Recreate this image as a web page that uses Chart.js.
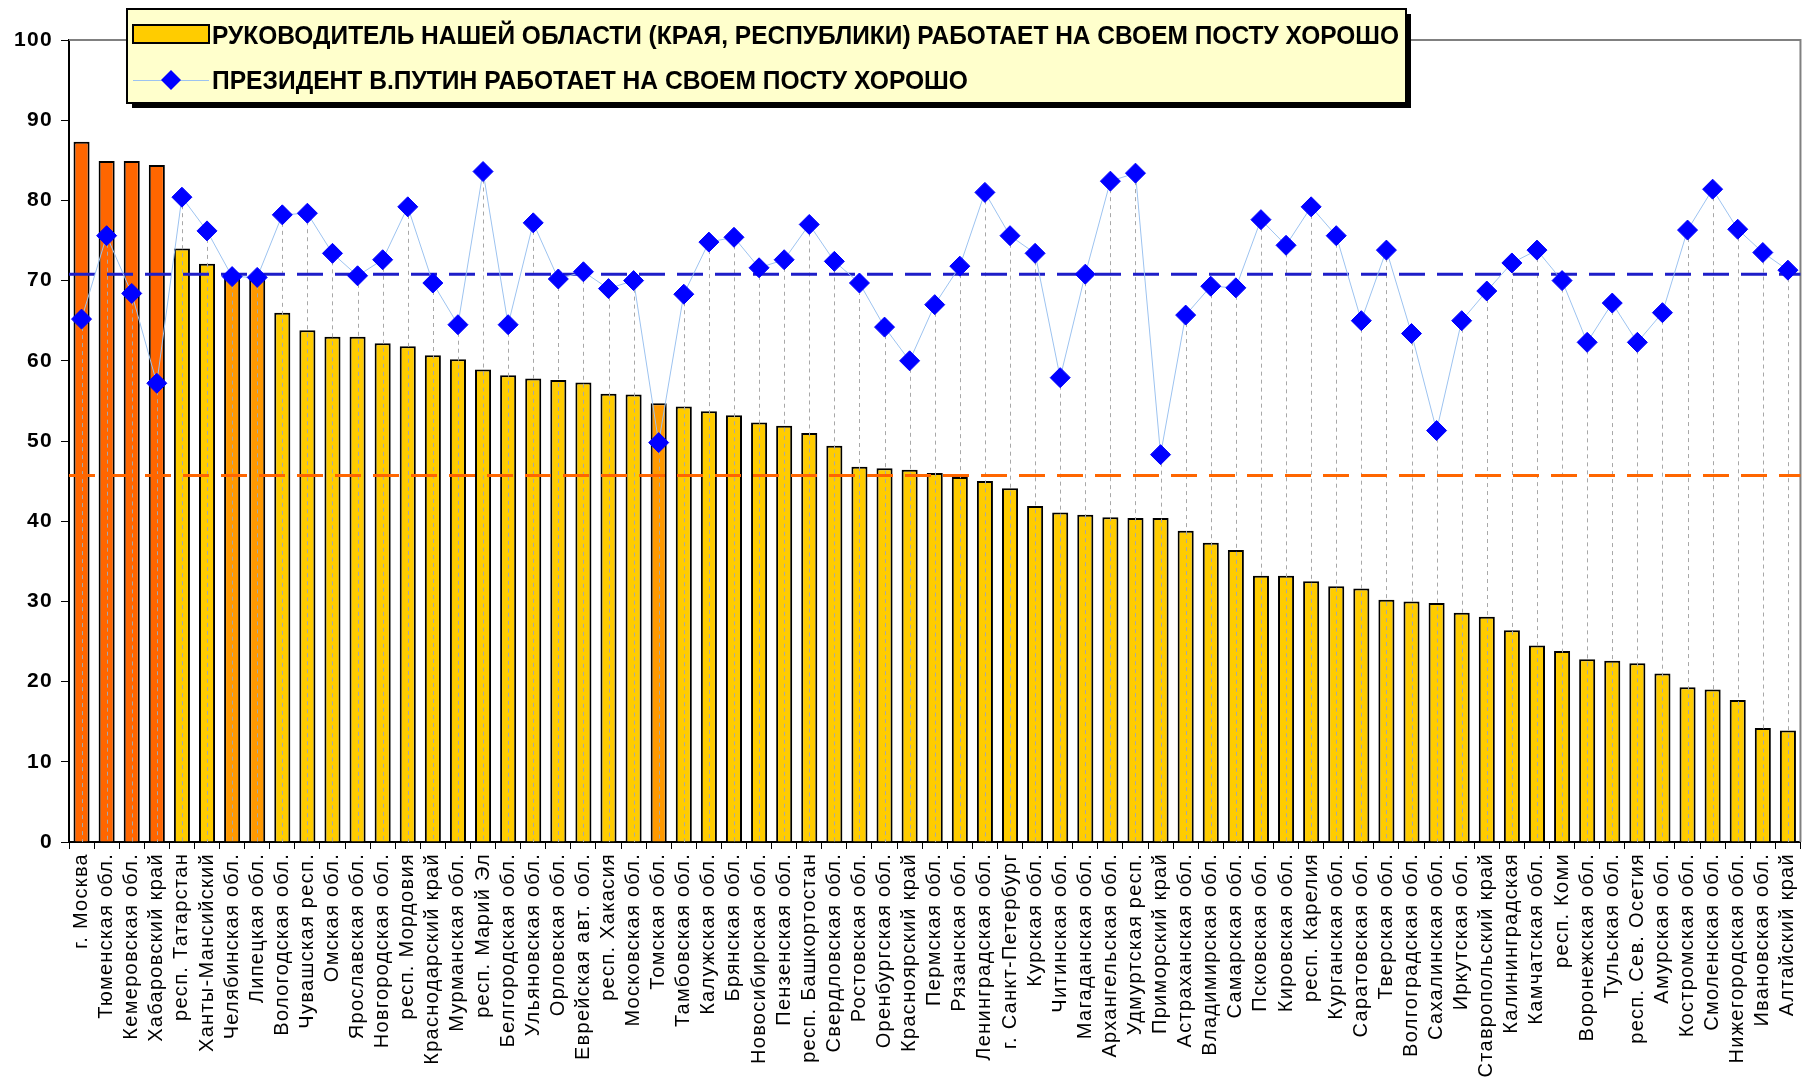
<!DOCTYPE html>
<html>
<head>
<meta charset="utf-8">
<script src="https://cdn.jsdelivr.net/npm/chart.js@4/dist/chart.umd.min.js"></script>
<style>
  html, body { margin: 0; padding: 0; background: #fff; }
  #wrap { position: absolute; left: 0; top: 0; width: 1816px; height: 1080px; }
</style>
</head>
<body>
<div id="wrap"><canvas id="chart"></canvas></div>
<script>
// регионы, по убыванию оценки губернатора
const regions = [
    'г. Москва', 'Тюменская обл.', 'Кемеровская обл.', 'Хабаровский край', 'респ. Татарстан',
    'Ханты-Мансийский', 'Челябинская обл.', 'Липецкая обл.', 'Вологодская обл.', 'Чувашская респ.',
    'Омская обл.', 'Ярославская обл.', 'Новгородская обл.', 'респ. Мордовия', 'Краснодарский край',
    'Мурманская обл.', 'респ. Марий Эл', 'Белгородская обл.', 'Ульяновская обл.', 'Орловская обл.',
    'Еврейская авт. обл.', 'респ. Хакасия', 'Московская обл.', 'Томская обл.', 'Тамбовская обл.',
    'Калужская обл.', 'Брянская обл.', 'Новосибирская обл.', 'Пензенская обл.', 'респ. Башкортостан',
    'Свердловская обл.', 'Ростовская обл.', 'Оренбургская обл.', 'Красноярский край', 'Пермская обл.',
    'Рязанская обл.', 'Ленинградская обл.', 'г. Санкт-Петербург', 'Курская обл.', 'Читинская обл.',
    'Магаданская обл.', 'Архангельская обл.', 'Удмуртская респ.', 'Приморский край', 'Астраханская обл.',
    'Владимирская обл.', 'Самарская обл.', 'Псковская обл.', 'Кировская обл.', 'респ. Карелия',
    'Курганская обл.', 'Саратовская обл.', 'Тверская обл.', 'Волгоградская обл.', 'Сахалинская обл.',
    'Иркутская обл.', 'Ставропольский край', 'Калининградская', 'Камчатская обл.', 'респ. Коми',
    'Воронежская обл.', 'Тульская обл.', 'респ. Сев. Осетия', 'Амурская обл.', 'Костромская обл.',
    'Смоленская обл.', 'Нижегородская обл.', 'Ивановская обл.', 'Алтайский край'
];

const governorScore = [
    87.3, 84.9, 84.9, 84.4, 74.0, 72.1, 70.4, 70.2, 66.0, 63.8,
    63.0, 63.0, 62.2, 61.8, 60.7, 60.2, 58.9, 58.2, 57.8, 57.6,
    57.3, 55.9, 55.8, 54.7, 54.3, 53.7, 53.2, 52.3, 51.9, 51.0,
    49.4, 46.8, 46.6, 46.4, 46.0, 45.5, 45.0, 44.1, 41.9, 41.1,
    40.8, 40.5, 40.4, 40.4, 38.8, 37.3, 36.4, 33.2, 33.2, 32.5,
    31.9, 31.6, 30.2, 30.0, 29.8, 28.6, 28.1, 26.4, 24.5, 23.8,
    22.8, 22.6, 22.3, 21.0, 19.3, 19.0, 17.7, 14.2, 13.9
];

const putinScore = [
    65.2, 75.6, 68.4, 57.2, 80.4, 76.2, 70.5, 70.4, 78.2, 78.4,
    73.4, 70.6, 72.6, 79.2, 69.7, 64.5, 83.6, 64.5, 77.2, 70.2,
    71.1, 69.0, 70.0, 49.8, 68.3, 74.8, 75.4, 71.6, 72.6, 77.0,
    72.4, 69.7, 64.2, 60.0, 67.0, 71.8, 81.0, 75.6, 73.4, 57.9,
    70.8, 82.4, 83.4, 48.3, 65.7, 69.3, 69.1, 77.6, 74.4, 79.2,
    75.6, 65.0, 73.8, 63.4, 51.3, 65.0, 68.7, 72.2, 73.8, 70.0,
    62.3, 67.2, 62.3, 66.0, 76.3, 81.4, 76.4, 73.5, 71.3
];

// средние уровни (пунктирные линии)
const putinAverage = 70.8;
const governorAverage = 45.7;

const legendLabels = [
    'РУКОВОДИТЕЛЬ НАШЕЙ ОБЛАСТИ (КРАЯ, РЕСПУБЛИКИ) РАБОТАЕТ НА СВОЕМ ПОСТУ ХОРОШО',
    'ПРЕЗИДЕНТ В.ПУТИН РАБОТАЕТ НА СВОЕМ ПОСТУ ХОРОШО'
];

const YELLOW = '#FFCC00';
const RED = '#FF6600';
const ORANGE = '#FF9900';
const redBars = [0, 1, 2, 3];
const orangeBars = [6, 7, 23];

const barColors = governorScore.map(function(v, i) {
    if (redBars.includes(i)) return RED;
    if (orangeBars.includes(i)) return ORANGE;
    return YELLOW;
});

// рамка области построения, средние линии, линии проекции, легенда
const extras = {
    id: 'extras',
    beforeDraw(chart) {
        chart.ctx.letterSpacing = '1.3px';
    },
    beforeDatasetsDraw(chart) {
        const a = chart.chartArea, ctx = chart.ctx;
        ctx.letterSpacing = '0px';
        ctx.save();
        ctx.strokeStyle = '#808080';
        ctx.lineWidth = 2;
        ctx.beginPath();
        ctx.moveTo(a.left, a.top);
        ctx.lineTo(a.right, a.top);
        ctx.lineTo(a.right, a.bottom);
        ctx.stroke();
        ctx.restore();
    },
    beforeDatasetDraw(chart, args) {
        if (args.index !== 1) return;
        const a = chart.chartArea, ctx = chart.ctx;
        const y = chart.scales.y;
        ctx.save();
        // drop lines
        ctx.strokeStyle = '#A8A8A8';
        ctx.lineWidth = 1;
        ctx.setLineDash([4, 4]);
        chart.getDatasetMeta(1).data.forEach(function(p) {
            ctx.beginPath();
            ctx.moveTo(Math.round(p.x) + 0.5, p.y);
            ctx.lineTo(Math.round(p.x) + 0.5, a.bottom);
            ctx.stroke();
        });
        // средние
        ctx.lineWidth = 3;
        ctx.setLineDash([26, 12]);
        ctx.strokeStyle = RED;
        ctx.beginPath();
        ctx.moveTo(a.left, y.getPixelForValue(governorAverage));
        ctx.lineTo(a.right, y.getPixelForValue(governorAverage));
        ctx.stroke();
        ctx.strokeStyle = '#1E1EC8';
        ctx.beginPath();
        ctx.moveTo(a.left, y.getPixelForValue(putinAverage));
        ctx.lineTo(a.right, y.getPixelForValue(putinAverage));
        ctx.stroke();
        ctx.restore();
    },
    afterDraw(chart) {
        const ctx = chart.ctx;
        const box = { x: 127, y: 9, w: 1279, h: 94 };
        ctx.save();
        ctx.letterSpacing = '0px';
        ctx.fillStyle = '#000';
        ctx.fillRect(box.x + 5, box.y + 5, box.w, box.h);
        ctx.fillStyle = '#FFFFCC';
        ctx.fillRect(box.x, box.y, box.w, box.h);
        ctx.strokeStyle = '#000';
        ctx.lineWidth = 2;
        ctx.strokeRect(box.x, box.y, box.w, box.h);

        // значок столбца
        ctx.fillStyle = YELLOW;
        ctx.fillRect(133, 25, 76, 18);
        ctx.lineWidth = 2;
        ctx.strokeRect(133, 25, 76, 18);

        // значок линии
        ctx.strokeStyle = '#9DC3F0';
        ctx.lineWidth = 1;
        ctx.beginPath();
        ctx.moveTo(133, 80.5);
        ctx.lineTo(209, 80.5);
        ctx.stroke();
        ctx.fillStyle = '#0000FF';
        ctx.beginPath();
        ctx.moveTo(171, 70);
        ctx.lineTo(181, 80);
        ctx.lineTo(171, 90);
        ctx.lineTo(161, 80);
        ctx.closePath();
        ctx.fill();

        ctx.fillStyle = '#000';
        ctx.font = 'bold 25px "Liberation Sans", Arial, sans-serif';
        ctx.textBaseline = 'alphabetic';
        const widths = [1187, 756];
        const baselines = [44, 89];
        legendLabels.forEach(function(t, i) {
            const w = ctx.measureText(t).width;
            ctx.save();
            ctx.translate(212, baselines[i]);
            ctx.scale(widths[i] / w, 1);
            ctx.fillText(t, 0, 0);
            ctx.restore();
        });
        ctx.restore();
    }
};

new Chart(document.getElementById('chart'), {
    type: 'bar',
    data: {
        labels: regions,
        datasets: [{
            type: 'bar',
            label: legendLabels[0],
            data: governorScore,
            backgroundColor: barColors,
            borderColor: '#000',
            borderWidth: 2,
            barPercentage: 0.64,
            categoryPercentage: 1,
            order: 2
        }, {
            type: 'line',
            label: legendLabels[1],
            data: putinScore,
            borderColor: '#9DC3F0',
            borderWidth: 1,
            tension: 0,
            pointStyle: 'rectRot',
            pointRadius: 10,
            pointBackgroundColor: '#0000FF',
            pointBorderColor: '#0000FF',
            pointBorderWidth: 1,
            order: 1
        }]
    },
    options: {
        responsive: true,
        maintainAspectRatio: false,
        animation: false,
        layout: { padding: { top: 40, right: 4, left: 0, bottom: 0 } },
        plugins: {
            legend: { display: false },
            tooltip: { enabled: false }
        },
        scales: {
            x: {
                offset: true,
                grid: { drawOnChartArea: false, offset: true, tickLength: 7, color: '#000', lineWidth: 1 },
                border: { color: '#000', width: 2 },
                ticks: {
                    autoSkip: false,
                    minRotation: 90,
                    maxRotation: 90,
                    padding: 4,
                    color: '#000',
                    font: { family: '"Liberation Sans", Arial, sans-serif', size: 20 }
                },
                afterFit: function(s) { s.height = 238; }
            },
            y: {
                min: 0,
                max: 100,
                ticks: {
                    stepSize: 10,
                    padding: 8,
                    color: '#000',
                    font: { family: '"Liberation Sans", Arial, sans-serif', size: 21, weight: 'bold' }
                },
                grid: { drawOnChartArea: false, tickLength: 8, color: '#000', lineWidth: 1 },
                border: { color: '#000', width: 2 },
                afterFit: function(s) { s.width = 69; }
            }
        }
    },
    plugins: [extras]
});
</script>
</body>
</html>
